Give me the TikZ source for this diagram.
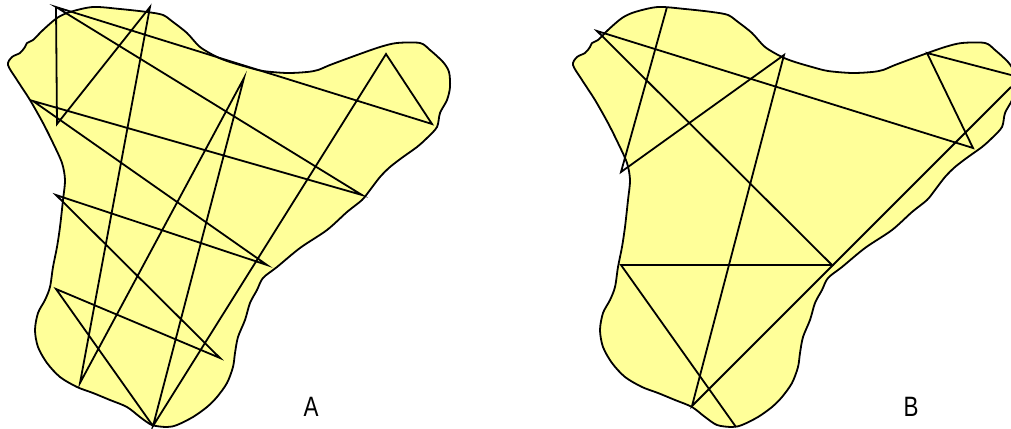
\documentclass[tikz,border=0pt]{standalone}
\usepackage{fontspec}
\newfontfamily\labfont[FakeStretch=0.8]{Liberation Sans}
\definecolor{blobfill}{RGB}{255,255,153}
\tikzset{
  blobstyle/.style={fill=blobfill, draw=black, line width=1.8pt, line join=round},
  zig/.style={draw=black, line width=1.8pt, line join=miter},
  lab/.style={font=\labfont\fontsize{28}{28}\selectfont, inner sep=0pt},
  blob/.pic={
    \path[blobstyle] plot[smooth cycle, tension=0.5] coordinates {
      (8,65) (12,57) (20,53) (25,47) (27,43) (33,40) (43,30) (57,18) (70,12)
      (93,7) (120,9) (147,12) (163,15) (173,22) (187,33) (200,47) (217,57)
      (230,62) (247,67) (263,71) (287,73) (307,72) (318,70) (330,65) (357,55)
      (380,47) (397,43) (420,43) (430,50) (443,62) (449,72) (450,87) (447,100)
      (440,113) (437,127) (427,138) (417,147) (403,157) (390,167) (380,177)
      (370,190) (362,200) (347,212) (327,230) (300,248) (277,267) (263,278)
      (257,290) (250,303) (245,320) (238,337) (235,353) (233,367) (227,383)
      (217,397) (207,407) (193,417) (177,425) (167,427) (152,425) (140,417)
      (127,407) (110,400) (93,393) (77,387) (60,377) (47,363) (38,347)
      (35,330) (38,313) (45,300) (50,287) (53,267) (57,247) (60,227) (63,200)
      (65,180) (62,163) (53,143) (43,123) (30,100) (17,80)};
  }
}
\begin{document}
\begin{tikzpicture}[x=1pt,y=-1pt]
\useasboundingbox (0,0) rectangle (1011,428);
\clip (0,0) rectangle (1011,428);
\pic at (0,0) {blob};
\pic at (565,0) {blob};
% A vertices
\coordinate (p1) at (56,7);
\coordinate (p2) at (57,124);
\coordinate (p3) at (150,7);
\coordinate (p4) at (80,383);
\coordinate (p5) at (244,78);
\coordinate (p6) at (153,426);
\coordinate (p7) at (386,54);
\coordinate (p8) at (432,124);
\coordinate (q1) at (362,195);
\coordinate (q2) at (33,101);
\coordinate (q3) at (267,265);
\coordinate (q4) at (56,195);
\coordinate (q5) at (220,358);
\coordinate (q6) at (56,289);
\draw[zig] (p1) -- (p2) -- (p3) -- (p4) -- (p5) -- (p6) -- (p7) -- (p8) -- (p1)
  -- (q1) -- (q2) -- (q3) -- (q4) -- (q5) -- (q6) -- (p6);
% B vertices
\coordinate (r0) at (1011,75);
\coordinate (r3) at (927,53);
\coordinate (r2) at (973,148);
\coordinate (r1) at (597,31);
\coordinate (r5) at (832,265);
\coordinate (r6) at (621,265);
\coordinate (r7) at (736,427);
\coordinate (t1) at (667,7);
\coordinate (t2) at (621,172);
\coordinate (t3) at (784,55);
\coordinate (t4) at (692,406);
\coordinate (t5) at (1011,87);
\draw[zig] (r0) -- (r3) -- (r2) -- (r1) -- (r5) -- (r6) -- (r7);
\draw[zig] (t1) -- (t2) -- (t3) -- (t4) -- (t5);
\node[lab] (la) at (311,407) {A};
\node[lab] (lb) at (911,407) {B};
\end{tikzpicture}
\end{document}
